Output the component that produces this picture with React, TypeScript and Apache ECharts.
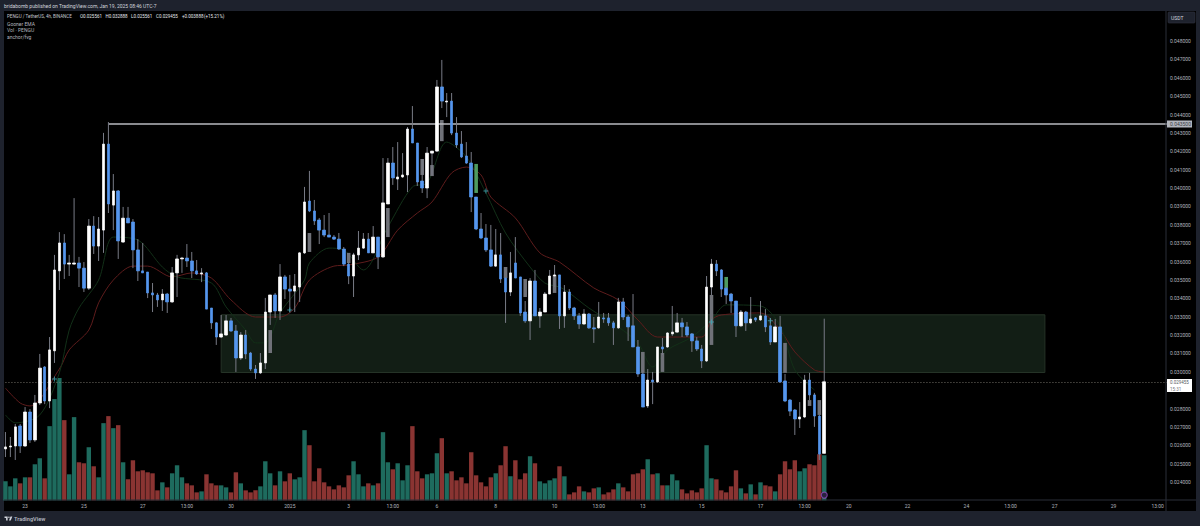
// React and related imports
import { useEffect, useRef } from "react";
// third-party libraries
import * as echarts from "echarts";

// bars are 4h, Jan 19 05:00 is the last one with a price
const opens = [
  0.0258, 0.02591, 0.02596, 0.02705, 0.02596, 0.02781, 0.02629, 0.0283, 0.03026, 0.02841,
  0.03114, 0.03549, 0.03701, 0.03586, 0.03586, 0.03592, 0.03564, 0.03455, 0.03793, 0.03684,
  0.03771, 0.04239, 0.03907, 0.03984, 0.03706, 0.03836, 0.03815, 0.03663, 0.03549, 0.03543,
  0.03429, 0.03418, 0.03391, 0.03423, 0.0338, 0.03538, 0.03614, 0.03619, 0.03603, 0.03549,
  0.03532, 0.03538, 0.03347, 0.03266, 0.03189, 0.032, 0.03277, 0.03222, 0.03075, 0.032,
  0.03102, 0.03015, 0.02994, 0.03048, 0.03325, 0.03418, 0.03331, 0.03516, 0.0345, 0.03439,
  0.03461, 0.03647, 0.03929, 0.03875, 0.03826, 0.03771, 0.03744, 0.03733, 0.03722, 0.03668,
  0.03586, 0.03521, 0.03636, 0.03673, 0.03722, 0.03647, 0.03733, 0.03625, 0.03913, 0.04136,
  0.04049, 0.0406, 0.04071, 0.04321, 0.04245, 0.04038, 0.04, 0.0419, 0.04201, 0.0455,
  0.04468, 0.04473, 0.04299, 0.04239, 0.04174, 0.04136, 0.03951, 0.03777, 0.03728, 0.03663,
  0.03575, 0.03636, 0.0351, 0.03434, 0.03592, 0.03516, 0.03325, 0.03277, 0.03494, 0.03304,
  0.03325, 0.03423, 0.03521, 0.03527, 0.03304, 0.03434, 0.03347, 0.03304, 0.0326, 0.03314,
  0.03239, 0.03239, 0.03293, 0.03293, 0.03266, 0.03239, 0.0338, 0.03298, 0.0325, 0.03135,
  0.02988, 0.02814, 0.02955, 0.02945, 0.03135, 0.03135, 0.03206, 0.03216, 0.03266, 0.03244,
  0.03206, 0.03168, 0.03124, 0.03059, 0.03461, 0.03586, 0.03554, 0.03455, 0.03423, 0.03385,
  0.0325, 0.03325, 0.03266, 0.03293, 0.03282, 0.03304, 0.0325, 0.03162, 0.03244, 0.0295,
  0.02846, 0.02792, 0.02743, 0.02754, 0.02955, 0.02874, 0.02759, 0.025561,
];
const highs = [
  0.02672, 0.02645, 0.02716, 0.02716, 0.02808, 0.02797, 0.02874, 0.03097, 0.03031, 0.03189,
  0.03636, 0.0376, 0.03749, 0.03636, 0.03945, 0.03625, 0.03597, 0.03831, 0.03847, 0.03842,
  0.043, 0.04359, 0.04076, 0.03989, 0.03897, 0.03897, 0.03831, 0.03722, 0.03701, 0.03543,
  0.03483, 0.03429, 0.0345, 0.03429, 0.0357, 0.03636, 0.03625, 0.03695, 0.03652, 0.03608,
  0.03564, 0.03543, 0.03347, 0.03271, 0.03309, 0.03309, 0.03293, 0.03255, 0.03216, 0.03227,
  0.03108, 0.03037, 0.03102, 0.03402, 0.03402, 0.03429, 0.03586, 0.03527, 0.03527, 0.03532,
  0.03652, 0.04006, 0.04093, 0.03935, 0.03837, 0.03853, 0.03864, 0.03744, 0.03755, 0.03679,
  0.03597, 0.03647, 0.03766, 0.03755, 0.03755, 0.03793, 0.03733, 0.04163, 0.04163, 0.04223,
  0.0425, 0.0419, 0.04332, 0.04446, 0.04245, 0.04158, 0.04223, 0.04201, 0.04588, 0.04697,
  0.04517, 0.04517, 0.04386, 0.0431, 0.0425, 0.04196, 0.03951, 0.03864, 0.03804, 0.03799,
  0.03777, 0.03755, 0.0351, 0.03652, 0.03733, 0.03516, 0.03385, 0.0351, 0.03554, 0.03347,
  0.03434, 0.03554, 0.03581, 0.03527, 0.03472, 0.0345, 0.03353, 0.0332, 0.03341, 0.0332,
  0.03298, 0.0338, 0.0332, 0.0332, 0.03277, 0.03402, 0.03402, 0.03309, 0.03423, 0.03173,
  0.0301, 0.03015, 0.02999, 0.03135, 0.03184, 0.03216, 0.03358, 0.0332, 0.03293, 0.03271,
  0.03211, 0.03189, 0.03146, 0.03521, 0.03614, 0.03608, 0.03559, 0.03461, 0.03429, 0.03385,
  0.03336, 0.03331, 0.03407, 0.03298, 0.03385, 0.03341, 0.03293, 0.03287, 0.03304, 0.02988,
  0.02852, 0.02797, 0.02835, 0.02983, 0.02994, 0.02885, 0.02765, 0.032888,
];
const lows = [
  0.02536, 0.02536, 0.0252, 0.02558, 0.02591, 0.02613, 0.02618, 0.02819, 0.02824, 0.02802,
  0.03048, 0.03445, 0.03505, 0.03521, 0.03581, 0.03461, 0.03434, 0.03445, 0.03641, 0.03603,
  0.03647, 0.03864, 0.03771, 0.03614, 0.03701, 0.0381, 0.03564, 0.03494, 0.03538, 0.03401,
  0.03325, 0.03353, 0.03331, 0.0332, 0.03375, 0.03407, 0.03538, 0.0357, 0.0351, 0.03527,
  0.03488, 0.03341, 0.03233, 0.03146, 0.03184, 0.03195, 0.03217, 0.02999, 0.03064, 0.03069,
  0.03005, 0.02961, 0.02988, 0.03015, 0.03255, 0.03293, 0.03282, 0.03396, 0.03325, 0.03325,
  0.0338, 0.03641, 0.03869, 0.03799, 0.03695, 0.03733, 0.03733, 0.03717, 0.03663, 0.03575,
  0.03477, 0.03407, 0.03608, 0.03668, 0.03647, 0.03647, 0.03559, 0.03619, 0.03913, 0.04017,
  0.03989, 0.04055, 0.03978, 0.04245, 0.04011, 0.03973, 0.03945, 0.04071, 0.04196, 0.04435,
  0.04386, 0.04288, 0.04218, 0.04163, 0.04131, 0.03869, 0.03771, 0.03722, 0.03652, 0.0357,
  0.0357, 0.03483, 0.03266, 0.03412, 0.0351, 0.03304, 0.03266, 0.03173, 0.03304, 0.03239,
  0.03325, 0.03423, 0.03461, 0.03233, 0.03239, 0.03336, 0.03282, 0.03233, 0.03255, 0.03233,
  0.03157, 0.03233, 0.03266, 0.0325, 0.03146, 0.03233, 0.03282, 0.03168, 0.03135, 0.02972,
  0.02808, 0.02803, 0.02824, 0.02939, 0.03091, 0.0313, 0.03195, 0.03211, 0.03189, 0.03189,
  0.03108, 0.03113, 0.0302, 0.03053, 0.03418, 0.03521, 0.03407, 0.03369, 0.0332, 0.03189,
  0.03244, 0.03222, 0.0326, 0.03271, 0.03277, 0.03216, 0.03146, 0.03162, 0.02939, 0.02835,
  0.02759, 0.02656, 0.02694, 0.02748, 0.02846, 0.027, 0.0252, 0.025561,
];
const closes = [
  0.02591, 0.02596, 0.027, 0.02596, 0.02781, 0.02629, 0.0283, 0.0302, 0.02841, 0.03119,
  0.03554, 0.03701, 0.03586, 0.03592, 0.03592, 0.03564, 0.03455, 0.03793, 0.03684, 0.03777,
  0.04239, 0.03913, 0.03984, 0.03712, 0.03836, 0.0381, 0.03663, 0.03549, 0.03538, 0.03429,
  0.03418, 0.03391, 0.03423, 0.0338, 0.03538, 0.03614, 0.03619, 0.03603, 0.03549, 0.03532,
  0.03538, 0.03341, 0.03266, 0.03189, 0.03206, 0.03277, 0.03222, 0.03075, 0.032, 0.03097,
  0.03015, 0.02994, 0.03048, 0.03325, 0.03418, 0.03331, 0.03516, 0.0345, 0.03439, 0.03467,
  0.03647, 0.03924, 0.03875, 0.03821, 0.03771, 0.03744, 0.03733, 0.03722, 0.03668, 0.03586,
  0.03521, 0.03636, 0.03673, 0.03722, 0.03647, 0.03733, 0.03625, 0.03919, 0.04136, 0.04055,
  0.0406, 0.04071, 0.04321, 0.04245, 0.04033, 0.04, 0.0419, 0.04201, 0.0455, 0.04473,
  0.04473, 0.04299, 0.04234, 0.04169, 0.04136, 0.03951, 0.03777, 0.03728, 0.03663, 0.03575,
  0.03636, 0.03505, 0.03434, 0.03538, 0.0351, 0.0332, 0.03277, 0.03494, 0.03304, 0.03325,
  0.03423, 0.03521, 0.03527, 0.03304, 0.03434, 0.03347, 0.03304, 0.0326, 0.03314, 0.03239,
  0.03233, 0.03298, 0.03287, 0.03266, 0.03239, 0.0338, 0.03298, 0.03244, 0.03135, 0.02988,
  0.02808, 0.02955, 0.02945, 0.03135, 0.03124, 0.03211, 0.03216, 0.03266, 0.03244, 0.032,
  0.03168, 0.03124, 0.03059, 0.03461, 0.03586, 0.03549, 0.0345, 0.03418, 0.03385, 0.0325,
  0.03325, 0.03266, 0.03287, 0.03282, 0.03304, 0.03244, 0.03162, 0.03244, 0.02945, 0.02841,
  0.02786, 0.02743, 0.02754, 0.02955, 0.02874, 0.02759, 0.02552, 0.029455,
];
const volumes = [
  19, 14, 22, 17, 23, 23, 36, 42, 22, 74,
  101, 122, 80, 26, 83, 38, 37, 53, 34, 23,
  77, 84, 72, 75, 38, 21, 40, 29, 30, 28,
  27, 10, 18, 13, 27, 35, 23, 17, 15, 8,
  9, 26, 17, 15, 15, 13, 8, 28, 17, 10,
  8, 10, 14, 39, 27, 15, 29, 19, 27, 21,
  23, 70, 55, 19, 32, 18, 14, 11, 15, 13,
  25, 39, 26, 14, 17, 15, 17, 68, 38, 31,
  37, 20, 35, 74, 29, 22, 26, 27, 47, 62,
  27, 29, 20, 23, 17, 48, 25, 18, 14, 23,
  27, 35, 54, 24, 40, 21, 27, 44, 37, 19,
  17, 20, 22, 34, 24, 6, 8, 14, 9, 8,
  12, 13, 6, 8, 11, 17, 13, 9, 26, 27,
  31, 41, 26, 27, 15, 15, 26, 20, 11, 7,
  10, 8, 12, 55, 22, 21, 10, 8, 14, 30,
  12, 7, 16, 6, 18, 15, 14, 9, 26, 39,
  31, 40, 29, 32, 36, 35, 46, 45,
];

// empty bars on the right keep the time axis running past the last candle
const barCount = 238;
const timeTicks: [number, string][] = [
  [4, "23"], [16, "25"], [28, "27"], [37, "13:00"], [46, "30"], [58, "2025"], [70, "3"], [79, "13:00"],
  [88, "6"], [100, "8"], [112, "10"], [121, "13:00"], [130, "13"], [142, "15"], [154, "17"], [163, "13:00"],
  [172, "20"], [184, "22"], [196, "24"], [205, "13:00"], [214, "27"], [226, "29"], [235, "13:00"],
];

// Gooner EMA, read at the places where the lines can be seen
const slowEma = [
  [0, 0.02911], [3, 0.0283], [5, 0.02814], [11, 0.03015], [13, 0.03119], [17, 0.03227], [19, 0.03375], [22, 0.03499],
  [26, 0.03575], [29, 0.03575], [34, 0.03516], [38, 0.03538], [42, 0.0351], [46, 0.03391], [51, 0.03298], [56, 0.03298],
  [59, 0.03347], [62, 0.03499], [67, 0.03575], [70, 0.03581], [76, 0.03625], [80, 0.03771], [84, 0.03864], [87, 0.03924],
  [91, 0.04082], [94, 0.04114], [97, 0.04071], [99, 0.03951], [104, 0.03837], [109, 0.03647], [113, 0.03597], [120, 0.03456],
  [125, 0.03391], [129, 0.03282], [133, 0.03189], [142, 0.03189], [144, 0.03282], [146, 0.03309], [154, 0.0332], [158, 0.03227],
  [161, 0.03108], [165, 0.0301], [167, 0.02999],
];
const fastEma = [
  [0, 0.02765], [2, 0.02722], [7, 0.02765], [11, 0.02994], [13, 0.03227], [15, 0.03347], [19, 0.03499], [22, 0.03733],
  [27, 0.03717], [32, 0.0357], [35, 0.03516], [42, 0.03483], [45, 0.03353], [49, 0.03227], [51, 0.03157], [53, 0.03157],
  [56, 0.0332], [61, 0.03499], [62, 0.03592], [66, 0.03673], [69, 0.03663], [73, 0.03554], [78, 0.03788], [83, 0.04006],
  [86, 0.04027], [90, 0.0425], [94, 0.04169], [98, 0.03973], [102, 0.03755], [107, 0.0357], [110, 0.03483], [113, 0.03461],
  [115, 0.03429], [119, 0.03347], [125, 0.03244], [129, 0.03157], [132, 0.03026], [135, 0.03119], [140, 0.03189], [144, 0.03282],
  [147, 0.03364], [154, 0.03358], [158, 0.0325], [161, 0.0301], [165, 0.02901],
];

// anchor/fvg boxes: bar, bottom, top
const grayGaps = [
  [54, 0.03102, 0.03227], [62, 0.03652, 0.03755], [70, 0.03592, 0.03647], [78, 0.03733, 0.03891], [85, 0.04071, 0.04158],
  [87, 0.04065, 0.04125], [89, 0.04255, 0.0437], [102, 0.0351, 0.0357], [106, 0.03407, 0.03505], [112, 0.03429, 0.03527],
  [130, 0.02994, 0.03108], [134, 0.02999, 0.03102], [144, 0.03146, 0.03418], [159, 0.02994, 0.03157], [164, 0.02814, 0.02846],
  [166, 0.02765, 0.02846],
];
const greenGaps = [
  [96, 0.03973, 0.04131], [147, 0.03456, 0.03516],
];
const crossMarks = [
  [10, 0.02961], [58, 0.03336], [98, 0.03984], [144, 0.03271], [156, 0.03277],
];
const signalMark = [[167, 0.02329]];

const zoneBars = [44, 212];
const zonePrices = [0.0331, 0.02996];
const resistanceStart = 21;
const resistancePrice = 0.0435;
const lastPrice = 0.029455;

const legendTitle = "PENGU / TetherUS, 4h, BINANCE";
const legendValues = ["O0.025561", "H0.032888", "L0.025561", "C0.029455", "+0.003888", "(+15.21%)"];
const legendLines = ["Gooner EMA", "Vol · PENGU", "anchor/fvg"];

const FONT = "Roboto, 'Liberation Sans', sans-serif";
const BLUE = "#5596ee";
const UP_VOL = "#1e6b5e";
const DOWN_VOL = "#8a3432";
const WICK = "#787b86";
const AXIS_TEXT = "#b2b5be";
const PANEL = "#1e222d";
const AXIS_LINE = "#2a2e39";

const categories = Array.from({ length: barCount }, (_, i) => timeTicks.find((t) => t[0] === i)?.[1] ?? "");
const bodyData = closes.map((c, i) => [opens[i], c, Math.min(opens[i], c), Math.max(opens[i], c)]);
const wickData = closes.map((_, i) => [i, lows[i], highs[i]]);
const volumeData = volumes.map((v, i) => ({
  value: v,
  itemStyle: { color: closes[i] >= opens[i] ? UP_VOL : DOWN_VOL },
}));

// the price tag covers 0.029000, and the two top ticks lie above the first label
const priceLabel = (v: number) => {
  if (v > 0.0485 || v < 0.0235 || Math.abs(v - 0.029) < 0.0001) return "";
  return v.toFixed(6);
};

const renderWick = (_: unknown, api: any) => {
  const low = api.coord([api.value(0), api.value(1)]);
  const high = api.coord([api.value(0), api.value(2)]);
  return {
    type: "line",
    shape: { x1: low[0], y1: low[1], x2: high[0], y2: high[1] },
    style: { stroke: WICK, lineWidth: 1 },
  };
};

const gapRenderer = (fill: string) => (_: unknown, api: any) => {
  const low = api.coord([api.value(0), api.value(1)]);
  const high = api.coord([api.value(0), api.value(2)]);
  return {
    type: "rect",
    shape: { x: low[0] - 1.8, y: high[1], width: 3.6, height: low[1] - high[1] },
    style: { fill },
  };
};

const label = (text: string, x: number, y: number, fill: string, extra = {}) => ({
  type: "text",
  z: 50,
  style: { text, x, y, fill, fontSize: 5, fontFamily: FONT, textVerticalAlign: "middle", ...extra },
});

const LOGO = "M14 6H2v6h6v9h6V6Zm12 15h-7l6-15h7l-6 15Zm-7-9a3 3 0 1 0 0-6 3 3 0 0 0 0 6Z";
echarts.graphic.registerShape("tvLogo", echarts.graphic.extendPath(LOGO, {}) as any);

const App = () => {
  const chartRef = useRef<HTMLDivElement>(null);

  useEffect(() => {
    if (!chartRef.current) return;

    const chart = echarts.init(chartRef.current, undefined, { renderer: "svg" });

    const option: any = {
      animation: false,
      backgroundColor: "transparent",
      grid: [
        { left: 3, top: 4.25, width: 1166.9, height: 496.15 },
        { left: 3, top: 378, width: 1166.9, height: 122.4 },
      ],
      xAxis: [
        {
          type: "category",
          gridIndex: 0,
          data: categories,
          axisLine: { show: false },
          axisTick: { show: false },
          splitLine: { show: false },
          axisLabel: {
            interval: 0,
            color: AXIS_TEXT,
            fontSize: 5,
            fontFamily: FONT,
            margin: 3,
            hideOverlap: false,
          },
        },
        {
          type: "category",
          gridIndex: 1,
          data: categories,
          axisLine: { show: false },
          axisTick: { show: false },
          axisLabel: { show: false },
        },
      ],
      yAxis: [
        {
          type: "value",
          gridIndex: 0,
          position: "right",
          min: 0.023,
          max: 0.05,
          interval: 0.001,
          axisLine: { show: false },
          axisTick: { show: false },
          splitLine: { show: false },
          axisLabel: {
            color: AXIS_TEXT,
            fontSize: 5,
            fontFamily: FONT,
            margin: 0,
            formatter: priceLabel,
          },
        },
        {
          type: "value",
          gridIndex: 1,
          min: 0,
          max: 122,
          show: false,
        },
      ],
      series: [
        {
          name: "zone",
          type: "line",
          z: 1,
          data: [],
          markArea: {
            silent: true,
            itemStyle: { color: "#121e15", opacity: 1, borderColor: "#253327", borderWidth: 1 },
            data: [[{ coord: [zoneBars[0], zonePrices[0]] }, { coord: [zoneBars[1], zonePrices[1]] }]],
          },
        },
        {
          name: "Vol",
          type: "bar",
          xAxisIndex: 1,
          yAxisIndex: 1,
          z: 2,
          barWidth: 4.4,
          data: volumeData,
        },
        {
          name: "EMA slow",
          type: "line",
          z: 3,
          data: slowEma,
          smooth: 0.3,
          showSymbol: false,
          lineStyle: { color: "#5e1c1c", width: 1 },
        },
        {
          name: "EMA fast",
          type: "line",
          z: 3,
          data: fastEma,
          smooth: 0.3,
          showSymbol: false,
          lineStyle: { color: "#123018", width: 1 },
        },
        { name: "gaps", type: "custom", z: 4, renderItem: gapRenderer("#6f7178"), data: grayGaps },
        { name: "gaps up", type: "custom", z: 4, renderItem: gapRenderer("#4f9a5f"), data: greenGaps },
        { name: "wicks", type: "custom", z: 5, renderItem: renderWick, data: wickData },
        {
          name: "PENGU",
          type: "candlestick",
          z: 6,
          barWidth: 3,
          data: bodyData,
          itemStyle: {
            color: "#ffffff",
            color0: BLUE,
            borderColor: "#ffffff",
            borderColor0: BLUE,
            borderWidth: 0.7,
          },
          markLine: {
            silent: true,
            symbol: "none",
            label: { show: false },
            data: [
              [
                { coord: [resistanceStart, resistancePrice], lineStyle: { color: "#b8babf", width: 1.5, type: "solid" } },
                { coord: [barCount - 1, resistancePrice] },
              ],
              [
                { coord: [0, lastPrice], lineStyle: { color: "#8d8a80", width: 0.8, type: [1, 2] } },
                { coord: [barCount - 1, lastPrice] },
              ],
            ],
          },
        },
        {
          name: "marks",
          type: "scatter",
          z: 7,
          symbol: "path://M2 0h1v2h2v1H3v2H2V3H0V2h2z",
          symbolSize: 5,
          itemStyle: { color: "#3fa7b5" },
          data: crossMarks,
        },
        {
          name: "signal",
          type: "scatter",
          z: 7,
          symbol: "circle",
          symbolSize: 6,
          itemStyle: { color: "#2a1238", borderColor: "#8e4ab8", borderWidth: 1.2 },
          data: signalMark,
        },
      ],
      graphic: [
        { type: "line", z: 40, shape: { x1: 4, y1: 500, x2: 1196, y2: 500 }, style: { stroke: AXIS_LINE, lineWidth: 1 } },
        { type: "line", z: 40, shape: { x1: 1166, y1: 11, x2: 1166, y2: 511 }, style: { stroke: AXIS_LINE, lineWidth: 1 } },

        label("bridabomb published on TradingView.com, Jan 19, 2025 08:46 UTC-7", 4, 6, "#d1d4dc"),
        label(legendTitle, 7, 16.5, "#c4c7cf", { fontSize: 4.5 }),
        ...legendValues.map((text, i) => label(text, [80, 105.5, 131, 156, 182, 204][i], 16.5, "#e6e8ee", { fontSize: 4.5 })),
        ...legendLines.map((text, i) => label(text, 7, 23.5 + i * 6.8, "#b2b5be")),

        {
          type: "rect",
          z: 41,
          shape: { x: 1168, y: 12, width: 27, height: 11, r: 1 },
          style: { fill: PANEL, stroke: "#2f3440", lineWidth: 0.6 },
        },
        label("USDT", 1171, 18, "#d1d4dc"),

        { type: "rect", z: 41, shape: { x: 1167, y: 120.5, width: 25, height: 7 }, style: { fill: "#b2b5be" } },
        label("0.043500", 1170, 124, "#3a3d45"),

        { type: "rect", z: 41, shape: { x: 1167, y: 379, width: 25, height: 13 }, style: { fill: "#ffffff" } },
        label("0.029455", 1170, 382, "#555860", { fontSize: 4.5 }),
        label("15:31", 1170, 389, "#777a82", { fontSize: 4.5 }),

        { type: "tvLogo", z: 41, x: 4, y: 515, scaleX: 0.26, scaleY: 0.26, style: { fill: "#d1d4dc" } },
        label("TradingView", 14, 518.5, "#b2b5be", { fontSize: 5.6, fontWeight: 600 }),
      ],
    };

    chart.setOption(option);

    return () => {
      chart.dispose();
    };
  }, []);

  return (
    <div style={{ position: "fixed", left: 0, top: 0, width: 1200, height: 526, background: PANEL, overflow: "hidden" }}>
      <div style={{ position: "absolute", left: 4, top: 11, width: 1192, height: 500, background: "#000000" }} />
      <div ref={chartRef} style={{ position: "absolute", left: 0, top: 0, width: 1200, height: 526 }} />
    </div>
  );
};

export default App;
